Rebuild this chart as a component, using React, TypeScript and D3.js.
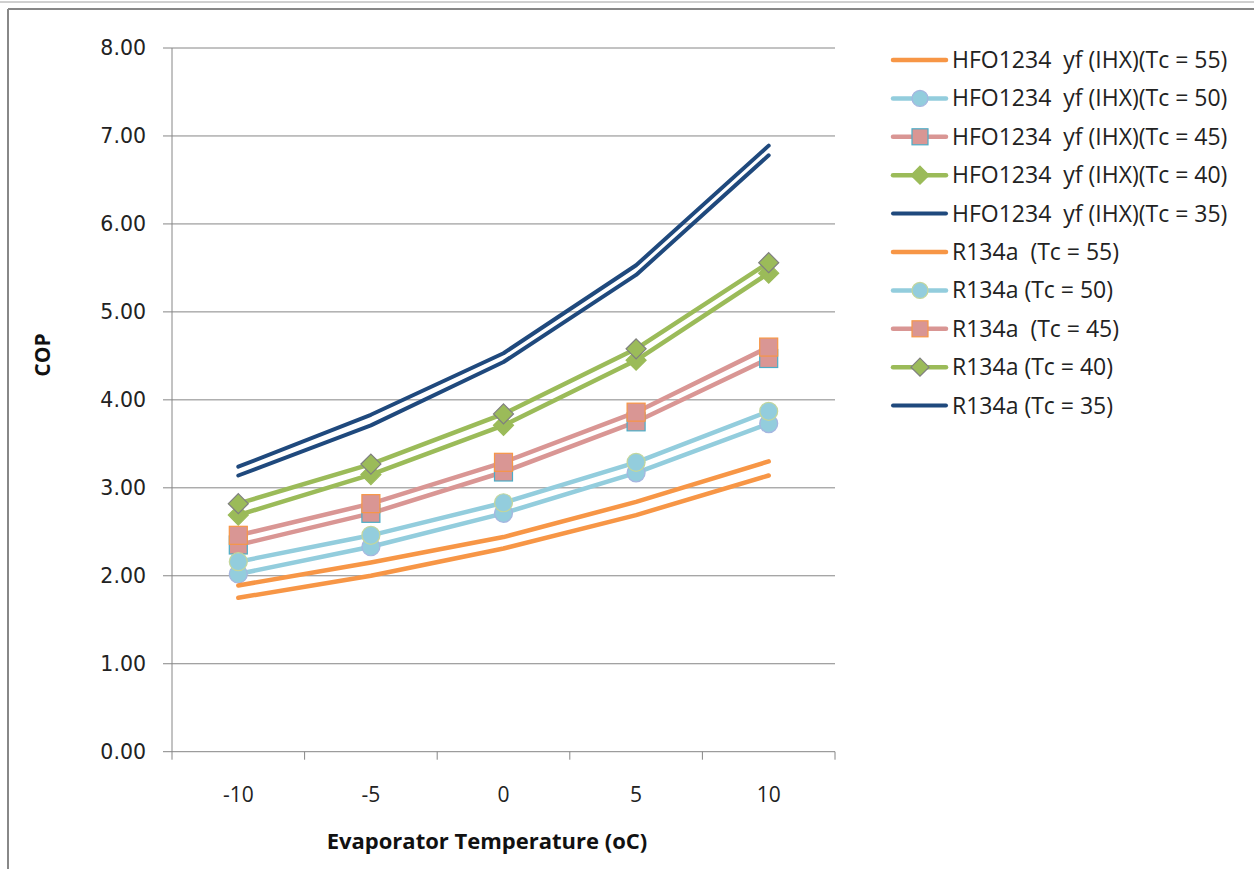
import React from 'react'
import * as d3 from 'd3'

// evaporator temperatures (oC)
const categories = ['-10', '-5', '0', '5', '10']
const yTicks = [0, 1, 2, 3, 4, 5, 6, 7, 8]

// COP
const hfo55 = [1.75, 2.0, 2.31, 2.69, 3.14]
const hfo50 = [2.02, 2.33, 2.71, 3.17, 3.73]
const hfo45 = [2.35, 2.71, 3.18, 3.75, 4.47]
const hfo40 = [2.69, 3.15, 3.71, 4.45, 5.44]
const hfo35 = [3.14, 3.71, 4.43, 5.42, 6.78]
const r55 = [1.89, 2.15, 2.44, 2.84, 3.3]
const r50 = [2.16, 2.46, 2.83, 3.29, 3.87]
const r45 = [2.46, 2.82, 3.29, 3.86, 4.6]
const r40 = [2.82, 3.27, 3.84, 4.58, 5.56]
const r35 = [3.24, 3.83, 4.53, 5.53, 6.89]

type Marker = 'none' | 'circle' | 'square' | 'diamond'

interface Series {
    name: string
    values: number[]
    color: string
    width: number
    marker: Marker
    fill: string
    edge: string
}

const series: Series[] = [
    { name: 'HFO1234  yf (IHX)(Tc = 55)', values: hfo55, color: '#f79646', width: 4.5, marker: 'none', fill: '', edge: '' },
    { name: 'HFO1234  yf (IHX)(Tc = 50)', values: hfo50, color: '#93cddd', width: 4.5, marker: 'circle', fill: '#93cddd', edge: '#a5b6e0' },
    { name: 'HFO1234  yf (IHX)(Tc = 45)', values: hfo45, color: '#d99694', width: 4.5, marker: 'square', fill: '#d99694', edge: '#4bacc6' },
    { name: 'HFO1234  yf (IHX)(Tc = 40)', values: hfo40, color: '#9bbb59', width: 4.5, marker: 'diamond', fill: '#9bbb59', edge: '#9bbb59' },
    { name: 'HFO1234  yf (IHX)(Tc = 35)', values: hfo35, color: '#1f497d', width: 4, marker: 'none', fill: '', edge: '' },
    { name: 'R134a  (Tc = 55)', values: r55, color: '#f79646', width: 4.5, marker: 'none', fill: '', edge: '' },
    { name: 'R134a (Tc = 50)', values: r50, color: '#93cddd', width: 4.5, marker: 'circle', fill: '#93cddd', edge: '#c3d69b' },
    { name: 'R134a  (Tc = 45)', values: r45, color: '#d99694', width: 4.5, marker: 'square', fill: '#d99694', edge: '#f79646' },
    { name: 'R134a (Tc = 40)', values: r40, color: '#9bbb59', width: 4.5, marker: 'diamond', fill: '#9bbb59', edge: '#7f7f7f' },
    { name: 'R134a (Tc = 35)', values: r35, color: '#1f497d', width: 4, marker: 'none', fill: '', edge: '' },
]

const plot = { left: 172, right: 835, top: 48, bottom: 751.7 }
const gridColor = '#868686'
const font = '"Open Sans", sans-serif'

function MarkerShape({ m, cx, cy, fill, edge, size }: { m: Marker, cx: number, cy: number, fill: string, edge: string, size: number }) {
    if (m === 'circle') {
        return <circle cx={cx} cy={cy} r={size / 2} fill={fill} stroke={edge} strokeWidth={1.2} />
    }
    if (m === 'square') {
        return <rect x={cx - size / 2} y={cy - size / 2} width={size} height={size} fill={fill} stroke={edge} strokeWidth={1.2} />
    }
    if (m === 'diamond') {
        let h = size / 2 + 1
        return <polygon points={`${cx},${cy - h} ${cx + h},${cy} ${cx},${cy + h} ${cx - h},${cy}`} fill={fill} stroke={edge} strokeWidth={1.2} />
    }
    return null
}

export default function App() {
    const x = d3.scaleBand<string>().domain(categories).range([plot.left, plot.right])
    const cx = (c: string) => (x(c) as number) + x.bandwidth() / 2
    const y = d3.scaleLinear().domain([0, 8]).range([plot.bottom, plot.top])

    const line = d3.line<number>()
        .x((_, i) => cx(categories[i]))
        .y(v => y(v))

    const edges = categories.map(c => x(c) as number).concat([plot.right])

    const legendX = 893
    const legendY = 60
    const legendStep = 38.4

    return (
        <div style={{ position: 'absolute', left: 0, top: 0 }}>
            <svg width={1254} height={869} style={{ display: 'block', background: '#fff' }}>
                {/* frame */}
                <line x1={0} x2={1254} y1={2} y2={2} stroke="#a0a0a0" strokeWidth={1} />
                <line x1={8} x2={1254} y1={9} y2={9} stroke="#888" strokeWidth={2} />
                <line x1={8} x2={8} y1={9} y2={869} stroke="#888" strokeWidth={2} />

                {/* grid + y axis */}
                {yTicks.map(t => (
                    <g key={`yt-${t}`}>
                        <line x1={plot.left - 9} x2={plot.right} y1={y(t)} y2={y(t)} stroke={gridColor} strokeWidth={1} />
                        <text x={146} y={y(t) + 7} textAnchor="end" fontFamily='"DejaVu Sans", sans-serif' fontSize={20.5} fill="#222">
                            {d3.format('.2f')(t)}
                        </text>
                    </g>
                ))}
                <line x1={plot.left} x2={plot.left} y1={plot.top} y2={plot.bottom} stroke={gridColor} strokeWidth={1} />

                {/* x axis */}
                {edges.map((e, i) => (
                    <line key={`xt-${i}`} x1={e} x2={e} y1={plot.bottom} y2={plot.bottom + 8} stroke={gridColor} strokeWidth={1} />
                ))}
                {categories.map(c => (
                    <text key={`xl-${c}`} x={cx(c)} y={802} textAnchor="middle" fontFamily={font} fontSize={21} fill="#222">{c}</text>
                ))}

                <text x={487} y={849} textAnchor="middle" fontFamily={font} fontWeight="bold" fontSize={22} fill="#111">Evaporator Temperature (oC)</text>
                <text transform={`translate(50, ${355}) rotate(-90)`} textAnchor="middle" fontFamily={font} fontWeight="bold" fontSize={21} fill="#111">COP</text>

                {/* series */}
                {series.map((s, si) => (
                    <g key={`s-${si}`}>
                        <path d={line(s.values) as string} fill="none" stroke={s.color} strokeWidth={s.width} strokeLinecap="round" strokeLinejoin="round" />
                        {s.values.map((v, i) => (
                            <MarkerShape key={`m-${si}-${i}`} m={s.marker} cx={cx(categories[i])} cy={y(v)} fill={s.fill} edge={s.edge} size={18} />
                        ))}
                    </g>
                ))}

                {/* legend */}
                {series.map((s, i) => {
                    let ly = legendY + i * legendStep
                    return (
                        <g key={`lg-${i}`}>
                            <line x1={legendX} x2={legendX + 53} y1={ly} y2={ly} stroke={s.color} strokeWidth={s.width} strokeLinecap="round" />
                            <MarkerShape m={s.marker} cx={legendX + 27} cy={ly} fill={s.fill} edge={s.edge} size={16} />
                            <text x={legendX + 59} y={ly + 8} fontFamily={font} fontSize={23} fill="#222" style={{ whiteSpace: 'pre' }}>{s.name}</text>
                        </g>
                    )
                })}
            </svg>
        </div>
    )
}
